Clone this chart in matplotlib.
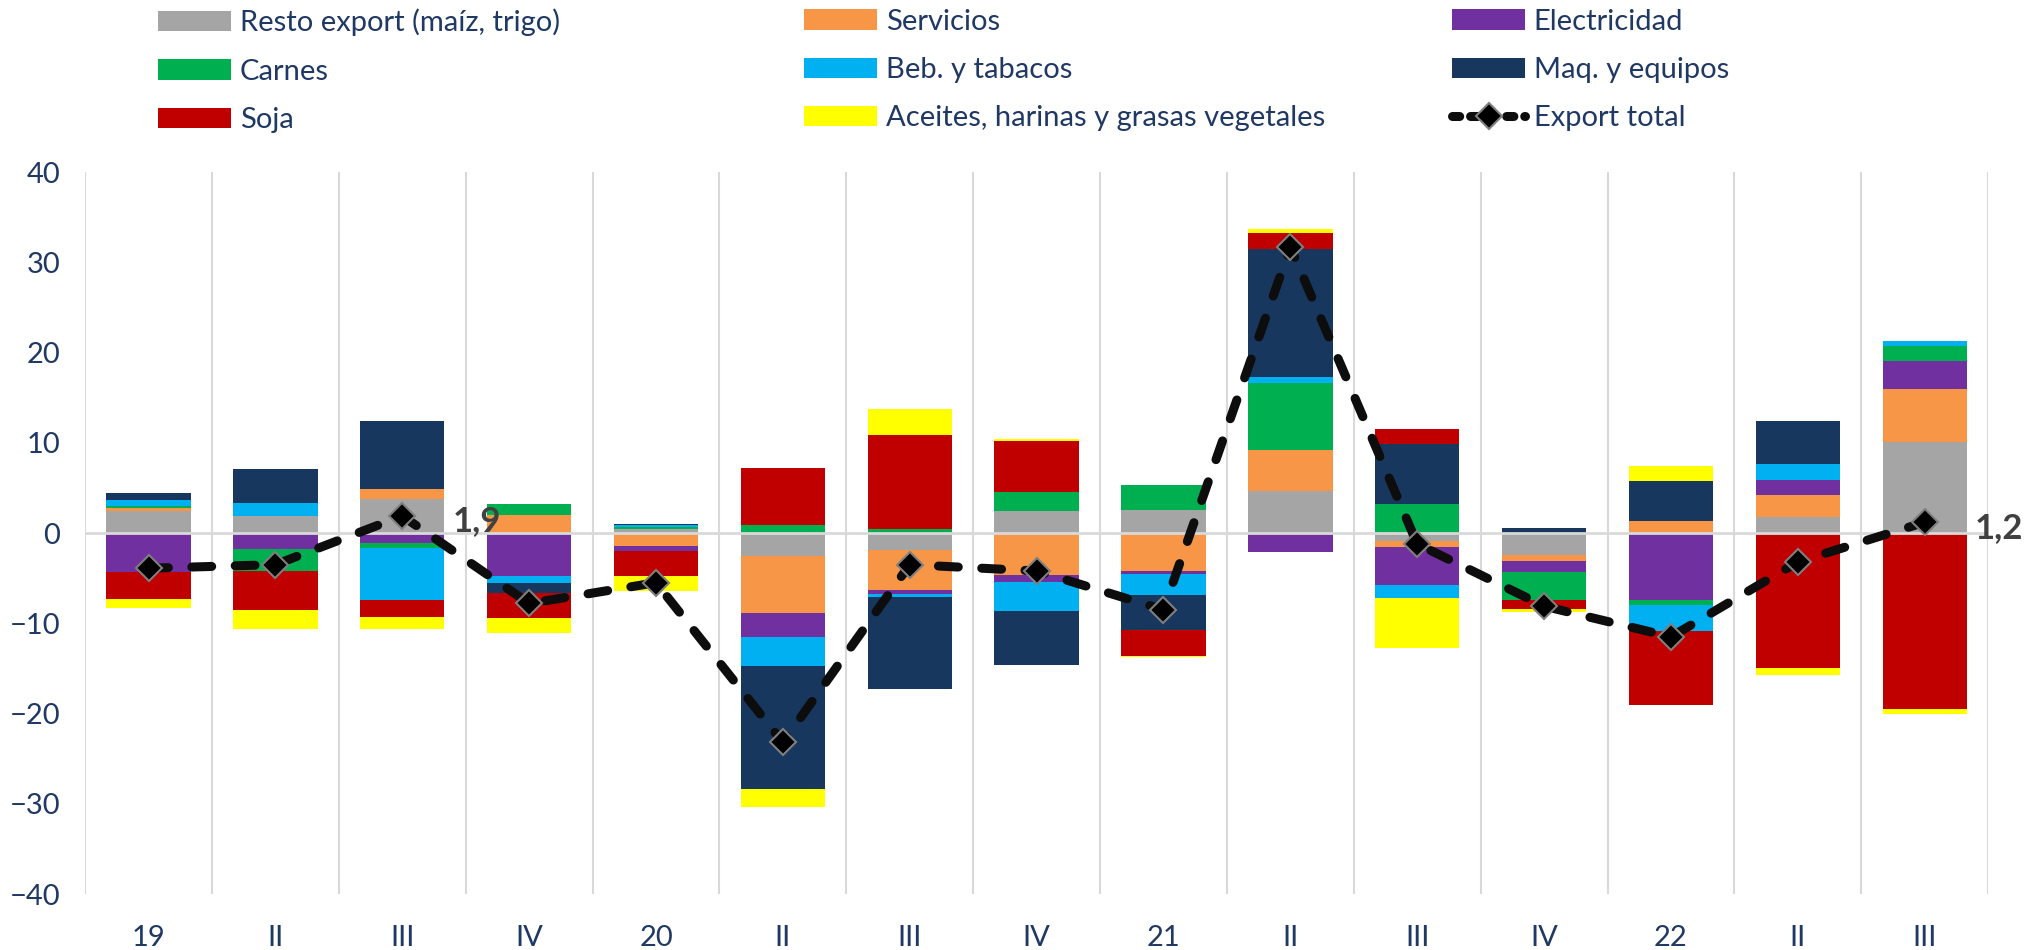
import numpy as np
import matplotlib.pyplot as plt
from matplotlib.patches import Patch
from matplotlib.lines import Line2D

plt.rcParams['font.family'] = ['Lato', 'DejaVu Sans']

# quarters
quarters = ['19', 'II', 'III', 'IV', '20', 'II', 'III', 'IV',
            '21', 'II', 'III', 'IV', '22', 'II', 'III']

# contributions by product group (p.p.)
resto = [2.43, 1.93, 3.76, 0.0, 0.5, -2.52, -1.93, 2.43, 2.52, 4.65, -0.84, -2.38, 0.0, 1.78, 10.1]
servicios = [0.3, 0.0, 1.09, 2.03, -1.44, -6.29, -4.36, -4.6, -4.21, 4.5, -0.74, -0.69, 1.39, 2.48, 5.84]
electricidad = [-4.3, -1.73, -1.09, -4.75, -0.6, -2.72, -0.45, -0.79, -0.35, -2.08, -4.2, -1.29, -7.38, 1.63, 3.12]
carnes = [0.25, -2.52, -0.54, 1.19, 0.2, 0.84, 0.45, 2.13, 2.77, 7.52, 3.17, -3.02, -0.64, 0.0, 1.68]
bebidas = [0.7, 1.44, -5.75, -0.84, 0.15, -3.22, -0.35, -3.22, -2.33, 0.59, -1.39, 0.0, -2.87, 1.73, 0.5]
maquinas = [0.75, 3.7, 7.62, -1.04, 0.1, -13.66, -10.15, -6.0, -3.86, 14.16, 6.73, 0.6, 4.41, 4.85, 0.0]
soja = [-3.0, -4.3, -1.88, -2.82, -2.77, 6.34, 10.45, 5.64, -2.82, 1.83, 1.58, -1.09, -8.17, -14.9, -19.46]
aceites = [-1.05, -2.03, -1.34, -1.58, -1.63, -1.93, 2.87, 0.25, -0.2, 0.45, -5.59, -0.25, 1.63, -0.84, -0.64]

export_total = [-3.9, -3.5, 1.9, -7.8, -5.5, -23.2, -3.5, -4.2, -8.5, 31.7, -1.2, -8.1, -11.5, -3.2, 1.2]

series = [
    ('Resto export (maíz, trigo)', resto, '#A5A5A5'),
    ('Servicios', servicios, '#F79646'),
    ('Electricidad', electricidad, '#7030A0'),
    ('Carnes', carnes, '#00B050'),
    ('Beb. y tabacos', bebidas, '#00B0F0'),
    ('Maq. y equipos', maquinas, '#17375E'),
    ('Soja', soja, '#C00000'),
    ('Aceites, harinas y grasas vegetales', aceites, '#FFFF00'),
]

navy = '#1F3864'
grid_c = '#D9D9D9'

fig = plt.figure(figsize=(20.31, 9.5), dpi=100)
ax = fig.add_axes([0.0419, 0.0589, 0.9370, 0.7600])

x = np.arange(len(quarters))
pos_bottom = np.zeros(len(x))
neg_bottom = np.zeros(len(x))
handles = {}
for name, vals, col in series:
    v = np.array(vals)
    bottom = np.where(v >= 0, pos_bottom, neg_bottom)
    ax.bar(x, v, 0.665, bottom=bottom, color=col, linewidth=0, zorder=2)
    pos_bottom += np.where(v >= 0, v, 0)
    neg_bottom += np.where(v < 0, v, 0)
    handles[name] = Patch(facecolor=col, edgecolor='none')

ax.plot(x, export_total, color='#0D0D0D', lw=6.5, dashes=(2.2, 2.6),
        dash_capstyle='round', marker='D', markersize=13,
        markerfacecolor='black', markeredgecolor='#7F7F7F', markeredgewidth=1.5,
        zorder=4)
handles['Export total'] = Line2D([], [], color='#0D0D0D', lw=6.5, dashes=(0.8, 1.2),
                                 dash_capstyle='round', marker='D', markersize=13,
                                 markerfacecolor='black', markeredgecolor='#7F7F7F',
                                 markeredgewidth=1.5)

# data labels
for i in [2, 14]:
    ax.annotate(f'{export_total[i]:.1f}'.replace('.', ','), (x[i], export_total[i]),
                xytext=(36, -4), textcoords='offset points', va='center', ha='left',
                fontsize=25, fontweight='bold', color='#404040', zorder=5)

ax.set_xlim(-0.5, len(x) - 0.5)
ax.set_ylim(-40, 40)
ax.set_yticks(np.arange(-40, 41, 10))
ax.set_xticks(x)
ax.set_xticklabels(quarters)
ax.tick_params(axis='both', length=0, labelsize=21, labelcolor=navy)
ax.tick_params(axis='x', pad=22)
ax.tick_params(axis='y', pad=18)
for s in ax.spines.values():
    s.set_visible(False)

for b in np.arange(-0.5, len(x), 1.0):
    ax.axvline(b, color=grid_c, lw=1.5, zorder=1)
ax.axhline(0, color=grid_c, lw=2, zorder=3)

# legend: three columns, filled row by row
cols = [
    ['Resto export (maíz, trigo)', 'Carnes', 'Soja'],
    ['Servicios', 'Beb. y tabacos', 'Aceites, harinas y grasas vegetales'],
    ['Electricidad', 'Maq. y equipos', 'Export total'],
]
col_x = [0.078, 0.396, 0.715]
for cx, names in zip(col_x, cols):
    fig.legend([handles[n] for n in names], names, loc='upper left',
               bbox_to_anchor=(cx, 0.991), frameon=False, fontsize=21,
               labelcolor=navy, handlelength=2.5, handleheight=0.7,
               handletextpad=0.3, labelspacing=0.77, borderpad=0,
               borderaxespad=0)

fig.savefig('out.png', dpi=100)
